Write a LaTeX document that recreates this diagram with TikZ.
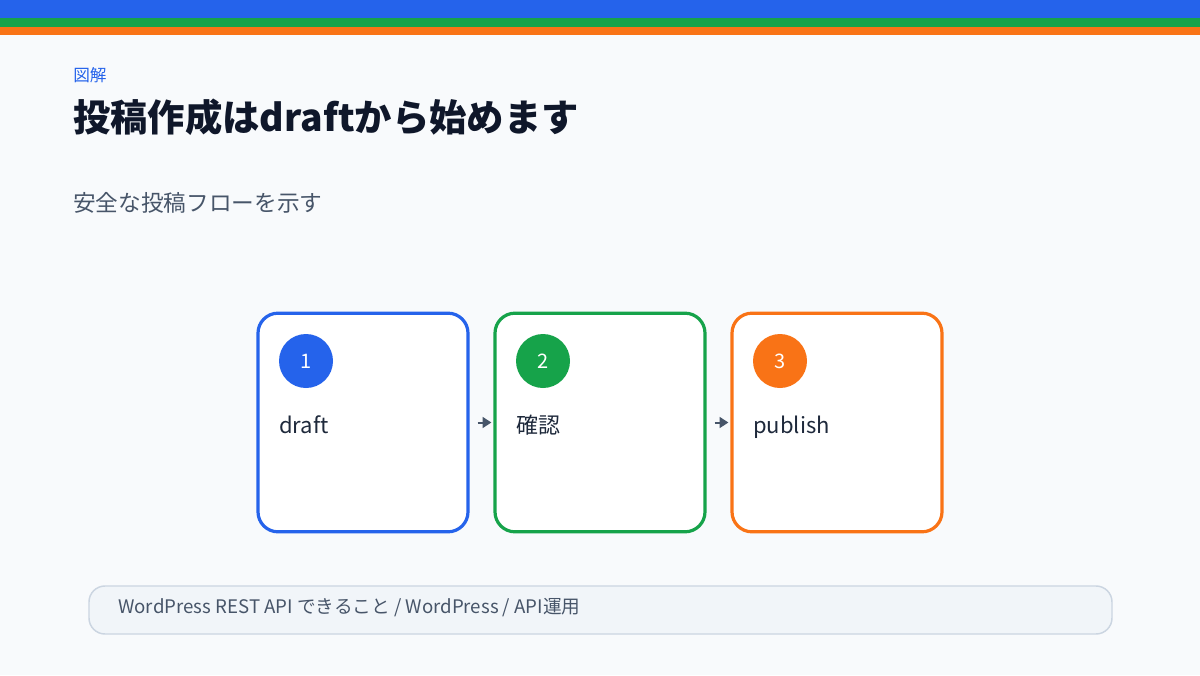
\documentclass[tikz,border=0pt]{standalone}
\usepackage{fontspec}
\setmainfont{Noto Sans CJK JP}
\usetikzlibrary{arrows.meta}
\definecolor{bg}{HTML}{F8FAFC}
\definecolor{cblue}{HTML}{2563EB}
\definecolor{cgreen}{HTML}{16A34A}
\definecolor{corange}{HTML}{F97316}
\definecolor{cdark}{HTML}{0F172A}
\definecolor{ctext}{HTML}{1E293B}
\definecolor{cgray}{HTML}{475569}
\definecolor{footfill}{HTML}{F1F5F9}
\definecolor{footline}{HTML}{CBD5E1}
\tikzset{
  x=0.75pt,y=-0.75pt,
  stepbox/.style={draw=#1,line width=2.4pt,fill=white,rounded corners=15pt,minimum width=157.5pt,minimum height=164pt,inner sep=0pt},
  badge/.style={circle,fill=#1,minimum size=40.5pt,inner sep=0pt,text=white,font=\fontsize{15}{18}\selectfont},
  steplabel/.style={anchor=base west,inner sep=0pt,text=ctext,font=\fontsize{16.5}{20}\selectfont},
  flowarrow/.style={draw=cgray,line width=1.5pt,-{Triangle[length=6.5pt,width=8pt]}},
}
\begin{document}
\begin{tikzpicture}
\useasboundingbox (0,0) rectangle (1200,675);
\fill[bg] (0,0) rectangle (1200,675);
\fill[cblue] (0,0) rectangle (1200,18);
\fill[cgreen] (0,18) rectangle (1200,27);
\fill[corange] (0,27) rectangle (1200,35);

\node[anchor=west,inner sep=0pt,text=cblue,font=\fontsize{12.5}{15}\selectfont] (kicker) at (73,75) {図解};
\node[anchor=west,inner sep=0pt,text=cdark,font=\fontsize{28}{34}\selectfont\bfseries] (title) at (73,117) {投稿作成はdraftから始めます};
\node[anchor=west,inner sep=0pt,text=cgray,font=\fontsize{17}{20}\selectfont] (sub) at (73,203) {安全な投稿フローを示す};

\node[stepbox=cblue] (b1) at (363,422.5) {};
\node[stepbox=cgreen] (b2) at (600,422.5) {};
\node[stepbox=corange] (b3) at (837,422.5) {};

\node[badge=cblue] (c1) at (306,361) {1};
\node[badge=cgreen] (c2) at (543,361) {2};
\node[badge=corange] (c3) at (780,361) {3};

\node[steplabel] (t1) at (279,433) {draft};
\node[steplabel] (t2) at (516,433) {確認};
\node[steplabel] (t3) at (753,433) {publish};

\draw[flowarrow,shorten <=6pt,shorten >=1.5pt] (b1.east) -- (b2.west);
\draw[flowarrow,shorten <=6pt,shorten >=1.5pt] (b2.east) -- (b3.west);

\node[draw=footline,line width=1.1pt,fill=footfill,rounded corners=12pt,minimum width=767.25pt,minimum height=36pt,inner sep=0pt] (foot) at (600.5,610) {};
\node[anchor=west,inner sep=0pt,text=cgray,font=\fontsize{14}{17}\selectfont] (foottext) at (118,608) {WordPress REST API できること / WordPress / API運用};
\end{tikzpicture}
\end{document}
